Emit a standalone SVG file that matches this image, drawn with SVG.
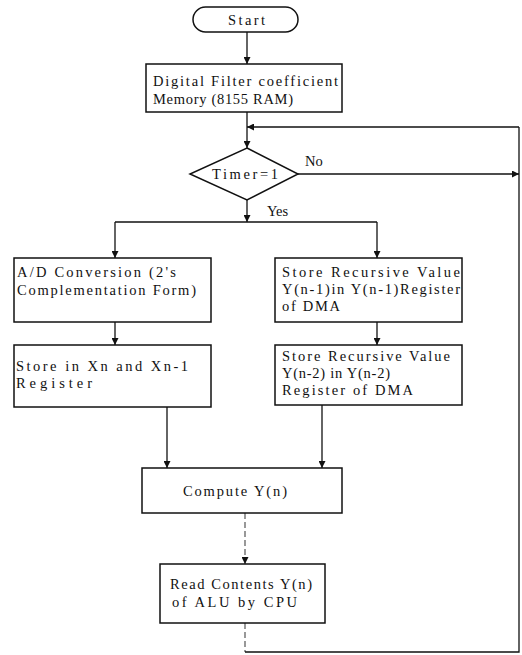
<svg xmlns="http://www.w3.org/2000/svg" width="522" height="655" viewBox="0 0 522 655">
<defs>
<marker id="arr" viewBox="0 0 10 10" refX="10" refY="5" markerWidth="7" markerHeight="7" orient="auto" markerUnits="userSpaceOnUse">
<path d="M0,0 L10,5 L0,10 z" fill="#111"/>
</marker>
<style>
.box{fill:#fff;stroke:#111;stroke-width:1.5}
.ln{fill:none;stroke:#111;stroke-width:1.3}
.dash{fill:none;stroke:#555;stroke-width:1.2;stroke-dasharray:6 3}
text{font-family:"Liberation Serif","Times New Roman",serif;font-size:14.5px;fill:#111}
</style>
</defs>
<rect width="522" height="655" fill="#fff"/>
<g id="connectors">
<line class="ln" x1="247" y1="32" x2="247" y2="64" marker-end="url(#arr)"/>
<line class="ln" x1="247" y1="112" x2="247" y2="148" marker-end="url(#arr)"/>
<polyline class="ln" points="519,127 247,127" marker-end="url(#arr)"/>
<line class="ln" x1="298" y1="174" x2="519" y2="174" marker-end="url(#arr)"/>
<line class="ln" x1="247" y1="200" x2="247" y2="222" marker-end="url(#arr)"/>
<line class="ln" x1="115" y1="222" x2="377" y2="222"/>
<line class="ln" x1="115" y1="222" x2="115" y2="258" marker-end="url(#arr)"/>
<line class="ln" x1="377" y1="222" x2="377" y2="258" marker-end="url(#arr)"/>
<line class="ln" x1="115" y1="322" x2="115" y2="345" marker-end="url(#arr)"/>
<line class="ln" x1="377" y1="322" x2="377" y2="345" marker-end="url(#arr)"/>
<line class="ln" x1="167" y1="407" x2="167" y2="468" marker-end="url(#arr)"/>
<line class="ln" x1="322" y1="405" x2="322" y2="468" marker-end="url(#arr)"/>
<line class="dash" x1="245" y1="513" x2="245" y2="564" marker-end="url(#arr)"/>
<line class="dash" x1="245" y1="623" x2="245" y2="652"/>
<polyline class="ln" points="245,652 519,652 519,127"/>
<text x="305" y="166">No</text>
<text x="267" y="216">Yes</text>
</g>
<g id="start">
<rect class="box" x="193" y="7" width="105" height="25" rx="12.5"/>
<text x="228" y="25" textLength="37" lengthAdjust="spacing">Start</text>
</g>
<g id="memory">
<rect class="box" x="146" y="64" width="196" height="48"/>
<text x="153" y="86" textLength="185" lengthAdjust="spacing">Digital Filter coefficient</text>
<text x="153" y="104" textLength="140" lengthAdjust="spacing">Memory (8155 RAM)</text>
</g>
<g id="timer">
<polygon class="box" points="247,148 298,174 247,200 190,174"/>
<text x="212" y="179" textLength="66" lengthAdjust="spacing">Timer=1</text>
</g>
<g id="adconv">
<rect class="box" x="14" y="258" width="197" height="64"/>
<text x="17" y="277" textLength="159" lengthAdjust="spacing">A/D Conversion (2's</text>
<text x="17" y="295" textLength="179" lengthAdjust="spacing">Complementation Form)</text>
</g>
<g id="storex">
<rect class="box" x="14" y="345" width="197" height="62"/>
<text x="16" y="371" textLength="172" lengthAdjust="spacing">Store in Xn and Xn-1</text>
<text x="16" y="388" textLength="76" lengthAdjust="spacing">Register</text>
</g>
<g id="storey1">
<rect class="box" x="275" y="258" width="187" height="64"/>
<text x="282" y="277" textLength="178" lengthAdjust="spacing">Store Recursive Value</text>
<text x="282" y="294" textLength="178" lengthAdjust="spacing">Y(n-1)in Y(n-1)Register</text>
<text x="282" y="311" textLength="58" lengthAdjust="spacing">of DMA</text>
</g>
<g id="storey2">
<rect class="box" x="275" y="345" width="187" height="60"/>
<text x="282" y="361" textLength="168" lengthAdjust="spacing">Store Recursive Value</text>
<text x="282" y="378" textLength="108" lengthAdjust="spacing">Y(n-2) in Y(n-2)</text>
<text x="282" y="395" textLength="131" lengthAdjust="spacing">Register of DMA</text>
</g>
<g id="compute">
<rect class="box" x="142" y="468" width="200" height="45"/>
<text x="183" y="496" textLength="104" lengthAdjust="spacing">Compute Y(n)</text>
</g>
<g id="read">
<rect class="box" x="160" y="564" width="165" height="59"/>
<text x="170" y="589" textLength="142" lengthAdjust="spacing">Read Contents Y(n)</text>
<text x="172" y="607" textLength="125" lengthAdjust="spacing">of ALU by CPU</text>
</g>
</svg>
